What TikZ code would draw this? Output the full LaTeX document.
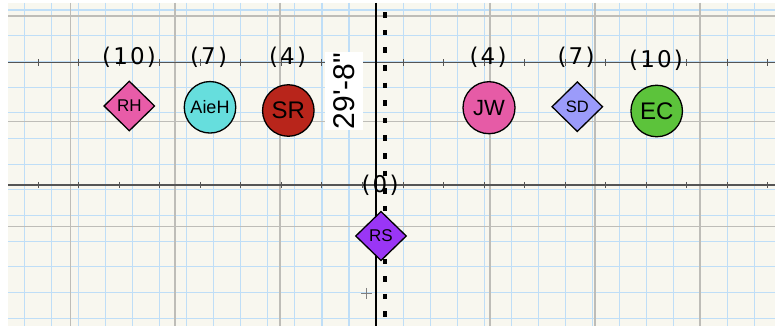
\documentclass[tikz,border=0pt]{standalone}
\usepackage{fontspec}
\setmainfont{Liberation Sans}
\newfontfamily\plainfont{Liberation Sans}[Ligatures=TeXOff]
\newfontfamily\countfont{DejaVu Sans}
\usetikzlibrary{shapes.geometric}
\definecolor{paper}{HTML}{F8F7EF}
\definecolor{gridblue}{HTML}{BFDEF7}
\definecolor{gridgray}{HTML}{BEBDB8}
\definecolor{axisgray}{HTML}{555555}
\definecolor{pinkRH}{HTML}{E85CA8}
\definecolor{cyanA}{HTML}{66DEDD}
\definecolor{redSR}{HTML}{B8251B}
\definecolor{pinkJW}{HTML}{E65BA6}
\definecolor{lavSD}{HTML}{9B9BFA}
\definecolor{greenEC}{HTML}{5CC33B}
\definecolor{purpleRS}{HTML}{9A36F5}
\begin{document}
\begin{tikzpicture}[x=1pt,y=-1pt,
  bluegrid/.style={draw=gridblue,line width=1.1pt},
  graygrid/.style={draw=gridgray,line width=1.5pt},
  axisline/.style={draw=axisgray,line width=1.3pt},
  tickline/.style={draw=axisgray,line width=0.9pt},
  person/.style={draw=black,line width=1.3pt,inner sep=0pt,text=black},
  circ/.style={person,circle,minimum size=51.5pt},
  diam/.style={person,diamond,aspect=1,minimum width=51pt,minimum height=50pt},
  count/.style={inner sep=0pt,font=\countfont\fontsize{23}{23}\selectfont}]
\useasboundingbox (0,0) rectangle (775,326);
\fill[white] (0,0) rectangle (775,326);
\fill[paper] (8,3) rectangle (775,326);
% blue grid
\foreach \k in {0,...,27} \draw[bluegrid] ({24.3+27.06*\k},3) -- ({24.3+27.06*\k},326);
\foreach \k in {0,...,12} \draw[bluegrid] (8,{10+25.69*\k}) -- (775,{10+25.69*\k});
% gray grid
\foreach \x in {70.3,175.2,280.2,490,595,700} \draw[graygrid] (\x,3) -- (\x,326);
\foreach \y in {16,121.3,226.6} \draw[graygrid] (8,\y) -- (775,\y);
% axes
\foreach \y in {62.7,185} {
  \draw[axisline] (8,\y) -- (775,\y);
  \foreach \k in {0,...,18} \draw[tickline] ({38.3+40.52*\k},\y-3.2) -- ++(0,6.4);
}
\draw[black,line width=1.1pt] (376,3) -- (376,326);
\draw[gray,line width=0.6pt] (361.2,293.3) -- (372.2,293.3) (366.7,287.8) -- (366.7,298.8);
% counts
\node[count] (c1) at (129,57.5) {(\kern2.2pt1\kern2.2pt0\kern2.2pt)};
\node[count] (c2) at (208.5,57.5) {(\kern2.2pt7\kern2.2pt)};
\node[count] (c3) at (287.5,57.5) {(\kern2.2pt4\kern2.2pt)};
\node[count] (c4) at (488,57.5) {(\kern2.2pt4\kern2.2pt)};
\node[count] (c5) at (576,57) {(\kern2.2pt7\kern2.2pt)};
\node[count] (c6) at (656,60) {(\kern2.2pt1\kern2.2pt0\kern2.2pt)};
\node[count] (c0) at (380,185) {(\kern2.2pt0\kern2.2pt)};
% dotted line
\draw[black,line width=4pt,dash pattern=on 5.6pt off 12pt] (385,12.2) -- (385,320);
% dimension label
\node[fill=white,rotate=90,inner xsep=1pt,inner ysep=0pt,minimum height=38pt,
  font=\plainfont\fontsize{30}{30}\selectfont] (dim) at (344,91) {29'-8"};
% people
\node[diam,fill=pinkRH,font=\fontsize{17}{17}\selectfont] (RH) at (129.3,106) {RH};
\node[circ,fill=cyanA,font=\fontsize{18}{18}\selectfont] (AieH) at (210,107.3) {AieH};
\node[circ,fill=redSR,font=\fontsize{24}{24}\selectfont] (SR) at (288.3,110.5) {SR};
\node[circ,fill=pinkJW,font=\fontsize{22}{22}\selectfont,minimum size=52pt] (JW) at (489,107.7) {JW};
\node[diam,fill=lavSD,font=\fontsize{16.5}{16.5}\selectfont] (SD) at (577.3,106.7) {SD};
\node[circ,fill=greenEC,font=\fontsize{24}{24}\selectfont] (EC) at (656.7,111) {EC};
\node[diam,fill=purpleRS,font=\fontsize{17}{17}\selectfont,minimum height=49.5pt] (RS) at (381,236) {RS};
\end{tikzpicture}
\end{document}
